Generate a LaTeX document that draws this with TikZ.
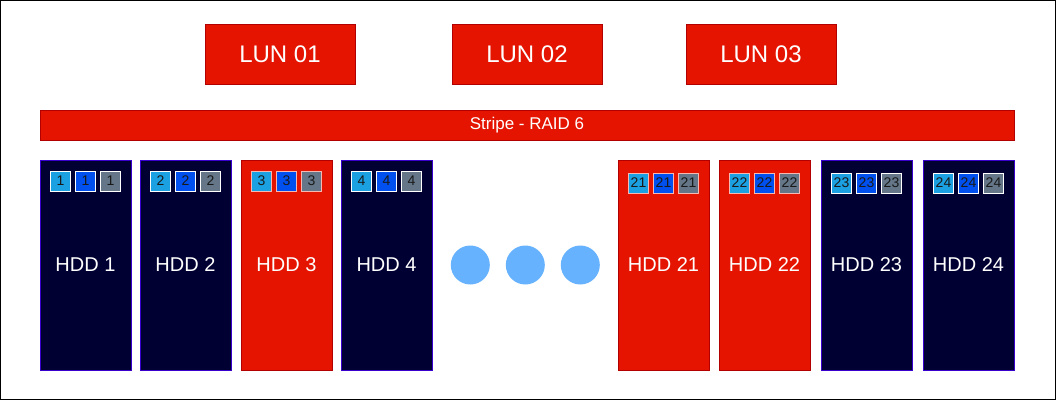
\documentclass[tikz,border=0pt]{standalone}
\usepackage{fontspec}
\setmainfont{Liberation Sans}
\definecolor{redf}{HTML}{E51400}
\definecolor{redd}{HTML}{B20000}
\definecolor{navy}{HTML}{000033}
\definecolor{navyd}{HTML}{3700CC}
\definecolor{lblue}{HTML}{1BA1E2}
\definecolor{dblue}{HTML}{0050EF}
\definecolor{slate}{HTML}{647687}
\definecolor{dotc}{HTML}{66B2FF}
\begin{document}
\begin{tikzpicture}[x=1pt,y=-1pt,
  lunbox/.style={fill=redf,draw=redd,line width=0.8pt,minimum width=150pt,minimum height=60pt,inner sep=0pt,text=white,font=\fontsize{24}{28}\selectfont},
  stripebox/.style={fill=redf,draw=redd,line width=0.8pt,minimum width=974pt,minimum height=30pt,inner sep=0pt,text=white,font=\fontsize{17}{20}\selectfont},
  hddn/.style={fill=navy,draw=navyd,line width=1pt,minimum width=91pt,minimum height=210pt,inner sep=0pt,text=white,font=\fontsize{20}{24}\selectfont},
  hddr/.style={fill=redf,draw=redd,line width=1pt,minimum width=91pt,minimum height=210pt,inner sep=0pt,text=white,font=\fontsize{20}{24}\selectfont},
  sq/.style={draw=white,line width=1pt,minimum width=20pt,minimum height=20pt,inner sep=0pt,text=black!90,font=\fontsize{14}{16}\selectfont},
  sqr/.style={sq,draw=white!70!redf},
  dotn/.style={circle,fill=dotc,minimum size=39pt,inner sep=0pt}
]
\useasboundingbox (0,0) rectangle (1057,401);
\draw[black,line width=1.2pt] (0.6,0.6) rectangle (1055.6,399.6);

\node[lunbox] (lun1) at (280,54) {LUN 01};
\node[lunbox] (lun2) at (527,54) {LUN 02};
\node[lunbox] (lun3) at (761,54) {LUN 03};

\node[stripebox] (stripe) at (527,125) {Stripe - RAID 6};

\foreach \n/\cx/\st/\sy in {1/85.5/hddn/181, 2/185.5/hddn/181, 3/286.5/hddr/181, 4/386.5/hddn/181,
                            21/663.5/hddr/183, 22/764.5/hddr/183, 23/866.5/hddn/183, 24/968.5/hddn/183}{
  \node[\st] (hdd\n) at (\cx,265) {HDD \n};
  \ifnum\n=3 \def\sqs{sqr}\else\ifnum\n=21 \def\sqs{sqr}\else\ifnum\n=22 \def\sqs{sqr}\else\def\sqs{sq}\fi\fi\fi
  \node[\sqs,fill=lblue] (a\n) at (\cx-25,\sy) {\n};
  \node[\sqs,fill=dblue] (b\n) at (\cx,\sy) {\n};
  \node[\sqs,fill=slate] (c\n) at (\cx+25,\sy) {\n};
}

\node[dotn] (d1) at (470.3,265) {};
\node[dotn] (d2) at (525.3,265) {};
\node[dotn] (d3) at (580.3,265) {};
\end{tikzpicture}
\end{document}
